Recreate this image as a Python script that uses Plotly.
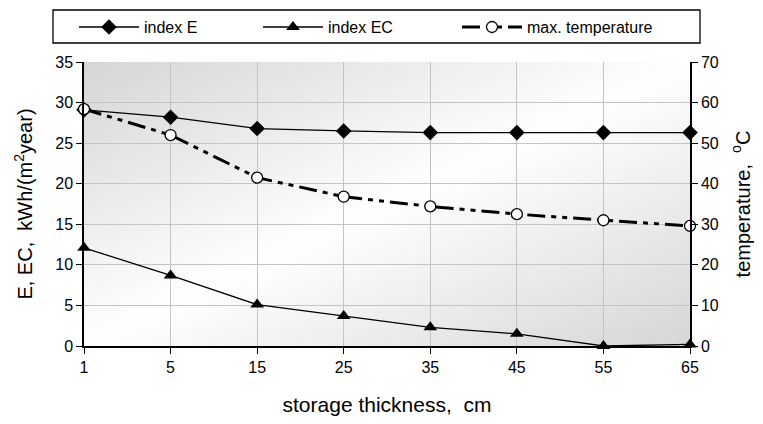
import base64, struct, zlib
import plotly.graph_objects as go

# ---- data ----
thickness_labels = ["1", "5", "15", "25", "35", "45", "55", "65"]
index_E = [29.1, 28.2, 26.8, 26.5, 26.3, 26.3, 26.3, 26.3]
index_EC = [12.1, 8.7, 5.1, 3.7, 2.3, 1.5, 0.0, 0.2]
max_temperature = [58.4, 52.0, 41.5, 36.8, 34.4, 32.5, 31.0, 29.6]

xpos = list(range(len(thickness_labels)))

# ---- gradient background (plot area) as a small PNG ----
def make_gradient_png(w=160, h=80, dark=214):
    rows = b""
    for j in range(h):
        v = 1 - j / (h - 1)  # top row v=1
        row = bytearray([0])
        for i in range(w):
            u = i / (w - 1)
            d = abs(u - v)
            g = int(round(255 - (255 - dark) * d))
            row.append(g)
        rows += bytes(row)
    def chunk(tag, data):
        c = struct.pack(">I", len(data)) + tag + data
        return c + struct.pack(">I", zlib.crc32(tag + data) & 0xFFFFFFFF)
    png = b"\x89PNG\r\n\x1a\n"
    png += chunk(b"IHDR", struct.pack(">IIBBBBB", w, h, 8, 0, 0, 0, 0))
    png += chunk(b"IDAT", zlib.compress(rows, 9))
    png += chunk(b"IEND", b"")
    return "data:image/png;base64," + base64.b64encode(png).decode()

FONT = "Liberation Sans, Arial, sans-serif"
W, H = 755, 416

fig = go.Figure()
fig.add_trace(go.Scatter(
    x=xpos, y=index_E, name="index E", mode="lines+markers", legend="legend",
    line=dict(color="black", width=1.3),
    marker=dict(symbol="diamond", size=12, color="black"),
    cliponaxis=False))
fig.add_trace(go.Scatter(
    x=xpos, y=index_EC, name="index EC", mode="lines+markers", legend="legend2",
    line=dict(color="black", width=1.3),
    marker=dict(symbol="triangle-up", size=12, color="black"),
    cliponaxis=False))
fig.add_trace(go.Scatter(
    x=xpos, y=max_temperature, name="max. temperature", mode="lines+markers",
    yaxis="y2", legend="legend3",
    line=dict(color="black", width=3, dash="18px,6px,5px,6px,5px,6px"),
    marker=dict(symbol="circle", size=11, color="white",
                line=dict(color="black", width=1.3)),
    cliponaxis=False))

def leg(xpx):
    return dict(
        orientation="h", xref="container", yref="container",
        x=xpx / W, xanchor="left", y=0.995, yanchor="top",
        font=dict(family=FONT, size=16), bgcolor="rgba(0,0,0,0)",
        itemwidth=60)

fig.update_layout(
    width=W, height=H,
    margin=dict(l=76, r=73, t=54, b=78, autoexpand=False),
    paper_bgcolor="white",
    plot_bgcolor="rgba(0,0,0,0)",
    font=dict(family=FONT, size=16, color="black"),
    showlegend=True,
    legend=leg(66), legend2=leg(250), legend3=leg(449),
    xaxis=dict(
        range=[0, 7], tickmode="array", tickvals=xpos, ticktext=thickness_labels,
        showgrid=True, gridcolor="#c4c4c4", gridwidth=1,
        showline=True, linecolor="black", linewidth=1.5,
        ticks="outside", ticklen=6, tickcolor="black",
        zeroline=False, automargin=False,
        title=dict(text="storage thickness,  cm", font=dict(size=21), standoff=22),
    ),
    yaxis=dict(
        range=[0, 35], dtick=5, tick0=0,
        showgrid=True, gridcolor="#c4c4c4", gridwidth=1,
        showline=True, linecolor="black", linewidth=1.5,
        ticks="outside", ticklen=6, tickcolor="black",
        zeroline=False, automargin=False,
        title=dict(text="E, EC,  kWh/(m<sup>2</sup>year)", font=dict(size=20), standoff=17),
    ),
    yaxis2=dict(
        range=[0, 70], dtick=10, tick0=0, overlaying="y", side="right",
        showgrid=False, showline=True, linecolor="black", linewidth=1.5,
        ticks="outside", ticklen=6, tickcolor="black",
        zeroline=False, automargin=False,
        title=dict(text="temperature,  <sup>o</sup>C", font=dict(size=20), standoff=18),
    ),
    images=[dict(
        source=make_gradient_png(), xref="paper", yref="paper",
        x=0, y=1, sizex=1, sizey=1, sizing="stretch", layer="below",
        xanchor="left", yanchor="top")],
    shapes=[dict(
        type="rect", xref="paper", yref="paper",
        x0=(53 - 84) / 606, x1=(700 - 84) / 606,
        y0=(346 - 43) / 284, y1=(346 - 10) / 284,
        line=dict(color="black", width=1.3), fillcolor="rgba(0,0,0,0)")],
)

fig.write_html("out.html")
